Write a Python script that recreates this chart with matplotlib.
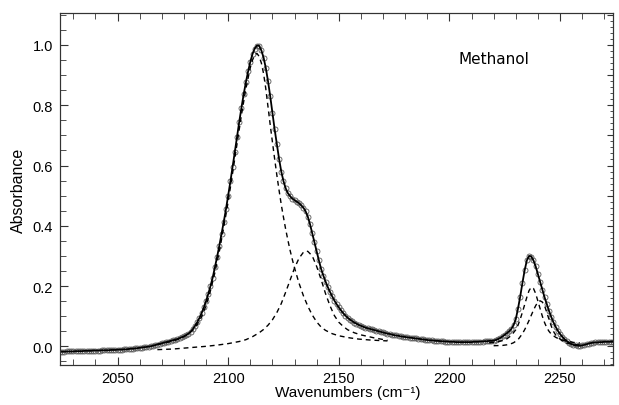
import matplotlib.pyplot as plt
import numpy as np
from matplotlib.ticker import MultipleLocator

# Measured spectrum (1 cm-1 grid, 2024..2274)
wn = np.arange(2024, 2275)
absorb = [
    -0.018, -0.018, -0.018, -0.017, -0.017, -0.017, -0.017, -0.016, -0.016, -0.016,  # 2024
    -0.016, -0.015, -0.015, -0.015, -0.015, -0.014, -0.014, -0.014, -0.014, -0.013,  # 2034
    -0.013, -0.013, -0.013, -0.012, -0.012, -0.012, -0.011, -0.011, -0.011, -0.010,  # 2044
    -0.010, -0.009, -0.008, -0.008, -0.007, -0.006, -0.005, -0.004, -0.003, -0.002,  # 2054
    -0.001, 0.000, 0.002, 0.004, 0.006, 0.008, 0.010, 0.012, 0.014, 0.016,  # 2064
    0.018, 0.020, 0.022, 0.024, 0.027, 0.030, 0.033, 0.037, 0.042, 0.048,  # 2074
    0.057, 0.068, 0.080, 0.094, 0.110, 0.129, 0.150, 0.174, 0.200, 0.228,  # 2084
    0.262, 0.297, 0.334, 0.373, 0.413, 0.455, 0.500, 0.547, 0.595, 0.645,  # 2094
    0.695, 0.745, 0.792, 0.836, 0.876, 0.912, 0.944, 0.970, 0.988, 0.998,  # 2104
    0.997, 0.982, 0.958, 0.924, 0.880, 0.830, 0.775, 0.720, 0.670, 0.622,  # 2114
    0.580, 0.548, 0.524, 0.508, 0.498, 0.490, 0.485, 0.480, 0.475, 0.468,  # 2124
    0.460, 0.448, 0.430, 0.405, 0.375, 0.345, 0.315, 0.285, 0.257, 0.235,  # 2134
    0.215, 0.197, 0.181, 0.166, 0.152, 0.140, 0.129, 0.119, 0.110, 0.102,  # 2144
    0.095, 0.089, 0.084, 0.079, 0.075, 0.071, 0.068, 0.065, 0.062, 0.060,  # 2154
    0.058, 0.056, 0.054, 0.052, 0.050, 0.048, 0.046, 0.044, 0.042, 0.041,  # 2164
    0.039, 0.037, 0.036, 0.035, 0.033, 0.032, 0.031, 0.030, 0.029, 0.028,  # 2174
    0.027, 0.026, 0.025, 0.024, 0.023, 0.022, 0.021, 0.020, 0.020, 0.019,  # 2184
    0.018, 0.018, 0.017, 0.017, 0.016, 0.016, 0.015, 0.015, 0.015, 0.014,  # 2194
    0.014, 0.014, 0.014, 0.014, 0.014, 0.014, 0.014, 0.015, 0.015, 0.015,  # 2204
    0.016, 0.016, 0.017, 0.017, 0.018, 0.018, 0.019, 0.021, 0.024, 0.028,  # 2214
    0.033, 0.038, 0.044, 0.050, 0.058, 0.070, 0.090, 0.125, 0.165, 0.210,  # 2224
    0.252, 0.285, 0.300, 0.298, 0.285, 0.265, 0.240, 0.214, 0.188, 0.163,  # 2234
    0.140, 0.118, 0.098, 0.080, 0.065, 0.052, 0.041, 0.032, 0.024, 0.018,  # 2244
    0.012, 0.008, 0.005, 0.003, 0.002, 0.002, 0.003, 0.005, 0.007, 0.009,  # 2254
    0.011, 0.012, 0.013, 0.013, 0.014, 0.014, 0.015, 0.015, 0.015, 0.015,  # 2264
    0.015,  # 2274
]

# Fitted components (dashed)
c1_x = [2068, 2070, 2072, 2074, 2076, 2078, 2080, 2082, 2084, 2086, 2088, 2090, 2092,
        2094, 2096, 2098, 2100, 2102, 2104, 2106, 2108, 2110, 2111, 2112, 2113, 2114,
        2115, 2116, 2117, 2118, 2119, 2120, 2121, 2122, 2123, 2124, 2125, 2126, 2127,
        2128, 2129, 2130, 2132, 2134, 2136, 2138, 2140, 2142, 2144, 2147, 2150, 2155,
        2159, 2164, 2169, 2172]
c1_y = [0.007, 0.009, 0.012, 0.016, 0.020, 0.025, 0.032, 0.041, 0.054, 0.072, 0.098,
        0.135, 0.185, 0.245, 0.315, 0.395, 0.480, 0.575, 0.672, 0.768, 0.855, 0.925,
        0.950, 0.967, 0.972, 0.962, 0.940, 0.905, 0.855, 0.795, 0.735, 0.678, 0.622,
        0.568, 0.518, 0.470, 0.428, 0.388, 0.352, 0.318, 0.288, 0.260, 0.210, 0.168,
        0.133, 0.104, 0.081, 0.064, 0.053, 0.042, 0.035, 0.028, 0.024, 0.021, 0.019,
        0.018]

c2_x = [2068, 2075, 2080, 2085, 2090, 2095, 2100, 2105, 2108, 2111, 2114, 2116, 2118,
        2120, 2122, 2124, 2126, 2128, 2130, 2132, 2134, 2135, 2136, 2138, 2140, 2142,
        2144, 2146, 2148, 2150, 2152, 2154, 2157, 2160, 2163, 2166, 2169, 2172]
c2_y = [-0.011, -0.009, -0.006, -0.003, 0.000, 0.004, 0.009, 0.016, 0.022, 0.032,
        0.045, 0.056, 0.070, 0.088, 0.112, 0.142, 0.180, 0.220, 0.260, 0.292, 0.312,
        0.316, 0.315, 0.300, 0.265, 0.222, 0.175, 0.135, 0.102, 0.080, 0.066, 0.055,
        0.045, 0.038, 0.033, 0.028, 0.024, 0.020]

c3_x = [2218, 2221, 2224, 2226, 2228, 2230, 2231, 2232, 2233, 2234, 2235, 2236, 2237,
        2238, 2239, 2240, 2241, 2242, 2243, 2244, 2245, 2246, 2248, 2250, 2253, 2256,
        2259]
c3_y = [0.012, 0.014, 0.019, 0.025, 0.036, 0.055, 0.070, 0.090, 0.113, 0.138, 0.163,
        0.185, 0.196, 0.192, 0.175, 0.150, 0.125, 0.100, 0.079, 0.062, 0.050, 0.041,
        0.030, 0.023, 0.017, 0.013, 0.011]

c4_x = [2220, 2224, 2227, 2229, 2231, 2233, 2234, 2235, 2236, 2237, 2238, 2239, 2240,
        2241, 2242, 2243, 2244, 2245, 2246, 2247, 2248, 2249, 2251, 2253, 2256, 2260]
c4_y = [0.002, 0.003, 0.006, 0.012, 0.022, 0.042, 0.055, 0.070, 0.086, 0.103, 0.120,
        0.135, 0.147, 0.151, 0.147, 0.135, 0.113, 0.090, 0.068, 0.050, 0.038, 0.030,
        0.018, 0.011, 0.006, 0.004]

plt.rcParams['font.family'] = ['Liberation Sans', 'DejaVu Sans']

fig = plt.figure(figsize=(6.19, 4.06), dpi=100)
ax = fig.add_axes([0.097, 0.0985, 0.8935, 0.867])

ax.plot(wn, absorb, ls='none', marker='o', ms=3.6, mfc='none', mec='0.35', mew=0.6)
ax.plot(wn, absorb, color='black', lw=1.3)
for cx, cy in [(c1_x, c1_y), (c2_x, c2_y), (c3_x, c3_y), (c4_x, c4_y)]:
    ax.plot(cx, cy, color='black', lw=1.0, ls=(0, (3.5, 2.8)))

ax.set_xlim(2024, 2274)
ax.set_ylim(-0.062, 1.106)
ax.xaxis.set_major_locator(MultipleLocator(50))
ax.xaxis.set_minor_locator(MultipleLocator(10))
ax.yaxis.set_major_locator(MultipleLocator(0.2))
ax.yaxis.set_minor_locator(MultipleLocator(0.05))
ax.tick_params(which='both', direction='in', top=True, right=True,
               labelsize=10.5, color='0.2')
ax.tick_params(which='major', length=6, pad=5)
ax.tick_params(which='minor', length=4)
ax.tick_params(axis='y', which='minor', right=False)
ax.tick_params(axis='x', pad=4)

# right side has denser ticks
ax2 = ax.twinx()
ax2.set_ylim(ax.get_ylim())
ax2.yaxis.set_major_locator(MultipleLocator(0.1))
ax2.yaxis.set_minor_locator(MultipleLocator(0.02))
ax2.tick_params(which='both', direction='in', labelright=False, color='0.2')
ax2.tick_params(which='major', length=4.5)
ax2.tick_params(which='minor', length=2.5)

for a in (ax, ax2):
    for s in a.spines.values():
        s.set_linewidth(0.8)
        s.set_color('0.2')

ax.set_xlabel('Wavenumbers (cm\u207b\u00b9)', fontsize=11)
ax.xaxis.set_label_coords(0.52, -0.056)
ax.set_ylabel('Absorbance', fontsize=11.5, labelpad=5)
ax.text(0.785, 0.872, 'Methanol', transform=ax.transAxes, fontsize=11,
        family='DejaVu Sans', ha='center', va='center')

fig.savefig('out.png', dpi=100)
